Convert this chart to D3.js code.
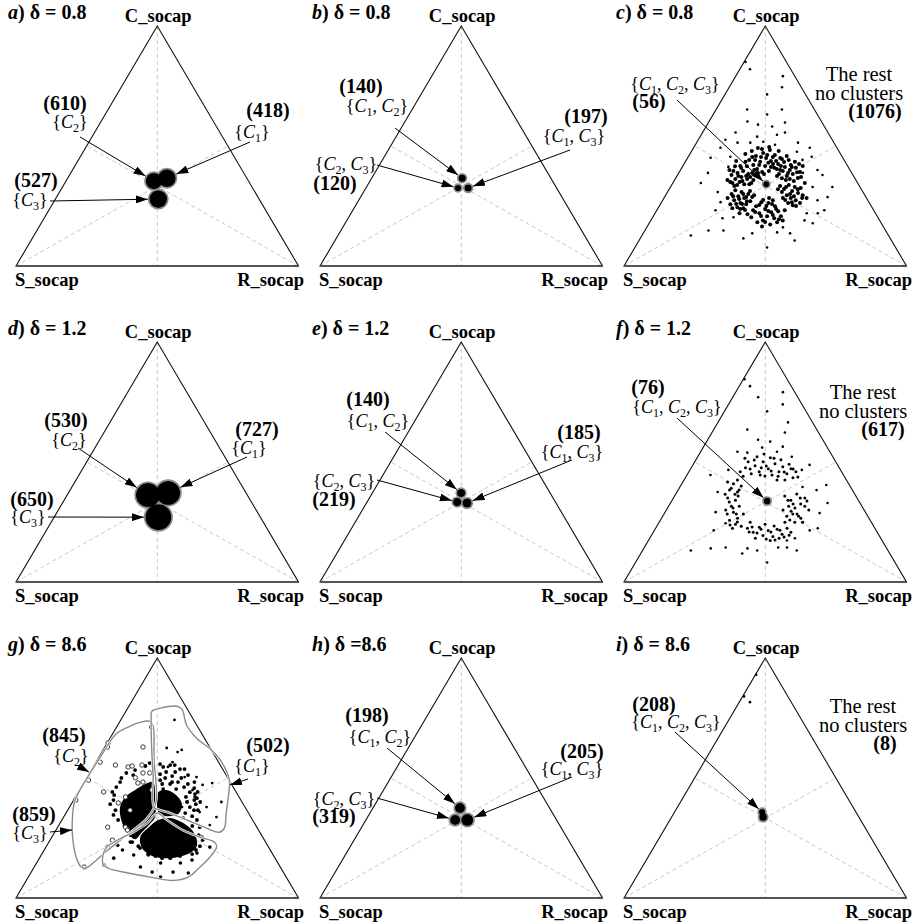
<!DOCTYPE html>
<html>
<head>
<meta charset="utf-8">
<script src="https://cdn.jsdelivr.net/npm/d3@7"></script>
<style>
body { margin: 0; background: #fff; }
</style>
</head>
<body>
<div id="chart"></div>
<script>
"use strict"

let width = 915;
let height = 924;
let colStep = 304;
let rowStep = 316;
let fontFamily = "Liberation Serif";

// ---- data ----
// every point is a composition [C %, R %]  (S % = 100 - C - R)

let panelIds = ["a", "b", "c", "d", "e", "f", "g", "h", "i"];
let deltaText = ["= 0.8", "= 0.8", "= 0.8", "= 1.2", "= 1.2", "= 1.2", "= 8.6", "=8.6", "= 8.6"];
let vertexNames = ["C_socap", "S_socap", "R_socap"];

// cluster sets; parts = [C, R, spread]
let clustersA = [
    {set: ["C2"], n: 610, parts: [[35.4, 31.1, 3.4]]},
    {set: ["C1"], n: 418, parts: [[36.6, 35.1, 3.7]]},
    {set: ["C3"], n: 527, parts: [[27.9, 36.4, 3.7]]}
];
let clustersB = [
    {set: ["C1", "C2"], n: 140, parts: [[36.6, 32.0, 1.5]]},
    {set: ["C2", "C3"], n: 120, parts: [[32.5, 32.6, 1.3]]},
    {set: ["C1", "C3"], n: 197, parts: [[32.5, 36.2, 1.5]]}
];
let clustersC = [
    {set: ["C1", "C2", "C3"], n: 56, parts: [[34.1, 33.3, 1.2]]}
];
let clustersD = [
    {set: ["C2"], n: 530, parts: [[36.2, 28.6, 5.0]]},
    {set: ["C1"], n: 727, parts: [[37.1, 35.3, 5.0]]},
    {set: ["C3"], n: 650, parts: [[27.0, 36.9, 5.4]]}
];
let clustersE = [
    {set: ["C1", "C2"], n: 140, parts: [[37.1, 31.4, 1.7]]},
    {set: ["C2", "C3"], n: 219, parts: [[33.3, 31.9, 1.7]]},
    {set: ["C1", "C3"], n: 185, parts: [[32.9, 35.6, 1.9]]}
];
let clustersF = [
    {set: ["C1", "C2", "C3"], n: 76, parts: [[33.7, 33.8, 1.4]]}
];
let clustersG = [
    {set: ["C2"], n: 845, parts: []},
    {set: ["C1"], n: 502, parts: []},
    {set: ["C3"], n: 859, parts: []}
];
let clustersH = [
    {set: ["C1", "C2"], n: 198, parts: [[37.5, 30.8, 2.1]]},
    {set: ["C2", "C3"], n: 319, parts: [[32.5, 31.6, 2.1]]},
    {set: ["C1", "C3"], n: 205, parts: [[32.5, 35.9, 2.5]]}
];
let clustersI = [
    {set: ["C1", "C2", "C3"], n: 208, parts: [[35.8, 31.0, 1.3], [33.7, 32.4, 1.6]]}
];

let restCountC = 1076;
let restCountF = 617;
let restCountI = 8;

// panel c: scattered outer points and the dense ring round the centre
let restCOuter = [
    [85.0,0.5],[82.0,3.6],[79.1,16.7],[74.5,18.7],[71.5,14.9],[65.2,11.0],[65.2,23.3],[63.1,19.1],[58.9,18.0],[60.2,13.6],
    [58.1,23.4],[59.8,27.1],[55.6,11.7],[53.9,20.2],[54.7,26.8],[55.6,29.2],[51.4,14.5],[51.4,19.0],[51.8,23.4],[50.5,28.2],
    [49.3,41.1],[47.6,37.4],[45.1,8.1],[49.3,9.5],[45.5,14.9],[44.2,41.1],[45.5,43.7],[40.0,48.5],[37.9,51.3],[38.8,10.3],
    [30.8,17.8],[32.9,57.3],[27.4,54.8],[23.2,59.3],[22.0,53.7],[26.6,20.9],[23.2,20.8],[19.9,24.9],[20.3,28.6],[12.7,17.3],
    [14.8,22.5],[14.8,27.8],[11.5,36.5],[13.6,38.6],[7.7,46.8],[14.0,47.2],[13.6,52.0],[10.6,55.1],[19.0,54.4],[17.8,57.9],
    [16.1,48.2],[22.0,57.6],[51.4,35.9],[52.6,9.6],[32.9,50.3],[28.7,57.7],[34.6,9.9],[41.3,16.3],[38.8,43.9]
];
let restCRing = [
    [39.2,29.3],[39.6,31.5],[40.4,26.9],[40.9,32.7],[41.7,29.1],[42.1,24.7],[42.5,33.3],[43.4,26.5],[43.8,30.1],[44.2,22.2],
    [44.6,33.6],[45.0,27.8],[45.8,23.8],[46.2,30.3],[47.1,25.7],[46.7,19.6],[45.8,34.7],[48.3,27.5],[49.2,22.8],[47.9,30.8],
    [47.9,21.3],[43.0,29.6],[45.4,25.8],[45.4,30.0],[44.2,24.3],[40.4,33.9],
    [38.3,35.7],[39.6,36.4],[37.5,38.9],[41.3,36.3],[40.0,38.7],[38.3,40.6],[42.1,38.0],[40.9,40.4],[44.2,36.2],[36.7,43.2],
    [43.4,38.8],[41.7,34.7],[39.2,42.7],[41.7,42.4],[35.4,42.4],[35.8,39.4],
    [33.3,38.6],[32.1,40.6],[33.7,41.5],[31.2,43.9],[32.9,44.0],[30.4,46.4],[29.5,42.9],[32.5,46.3],[28.3,44.9],[27.4,47.1],
    [28.3,42.1],[29.5,48.5],[26.2,49.2],[25.3,47.1],[26.2,45.0],[34.6,46.7],[28.3,50.5],
    [27.4,39.0],[26.2,38.0],[26.6,35.3],[24.9,41.0],[24.9,34.3],[23.7,38.1],[22.4,40.9],[22.0,36.9],[22.8,43.2],[23.2,34.1],
    [20.7,40.3],[19.0,39.7],[19.9,43.2],[20.7,45.2],[20.3,34.9],[23.2,45.3],[17.3,43.1],[18.2,38.1],[18.2,45.1],[21.6,32.9],
    [19.0,46.7],[16.5,40.6],
    [28.7,31.0],[30.0,29.0],[27.0,31.2],[28.3,28.4],[30.8,26.2],[25.7,30.4],[29.1,25.9],[26.2,28.1],[31.6,23.6],[24.1,30.2],
    [27.4,25.3],[24.5,27.9],[30.0,23.1],[25.7,24.8],[22.0,29.9],[28.3,22.5],
    [34.6,27.8],[36.2,25.5],[34.1,25.5],[38.3,24.8],[37.1,23.0],[35.0,23.4],[39.6,22.4],[38.8,20.8],[36.2,21.3],[33.3,22.4],
    [41.7,20.3],[37.9,19.1],[34.6,21.1],[40.0,17.3],[43.8,17.8],[35.8,18.7],[43.4,21.3],[37.1,26.1],
    [38.3,30.4],[41.2,31.4],[42.1,26.8],[43.7,32.0],[45.4,22.7],[46.2,27.6],[48.7,24.5],[42.5,31.5],[40.0,26.1],[45.0,32.8],
    [38.7,28.1],[49.6,26.6],
    [37.5,35.4],[36.6,37.6],[38.7,38.7],[41.2,38.8],[43.3,35.0],[39.1,41.7],[37.1,44.1],[36.2,40.6],[40.0,35.3],[42.5,40.7],
    [32.0,38.5],[30.8,40.5],[32.9,40.9],[30.0,43.8],[29.1,45.6],[32.0,45.5],[28.3,48.9],[27.5,43.3],[26.6,46.1],[25.0,48.4],
    [28.3,37.2],[27.5,35.5],[25.8,39.5],[25.4,35.2],[25.0,37.9],[23.7,42.0],[22.5,35.2],[22.9,39.6],[21.2,42.1],[20.8,38.1],
    [19.5,45.1],[18.3,40.8],
    [29.5,31.3],[31.2,29.0],[28.7,28.9],[30.0,27.2],[27.0,30.0],[25.8,28.9],[27.9,26.8],[25.8,26.8],[29.1,24.1],[23.3,31.2],
    [24.1,26.3],[23.7,29.3],
    [35.8,27.9],[34.1,27.3],[37.5,24.5],[35.4,24.2],[37.5,21.7],[33.7,23.2],[39.6,18.9],[35.0,20.1],[40.8,21.1],[41.6,18.5],
    [41.6,22.7],[38.7,26.0]
];

// panel f: scattered outer points and the ring
let restFOuter = [
    [84.5,0.4],[81.6,3.8],[79.1,16.7],[77.0,9.0],[74.0,19.2],[71.1,15.1],[66.5,24.8],[63.5,11.9],[62.3,25.8],[59.3,17.8],
    [58.5,22.5],[56.4,28.0],[54.3,13.0],[53.9,16.7],[56.0,20.9],[54.3,27.0],[52.2,33.3],[48.8,41.3],[46.7,39.6],[44.6,8.3],
    [46.7,13.6],[37.5,14.4],[40.4,51.4],[38.3,49.0],[39.6,43.4],[32.9,55.6],[28.7,54.9],[24.9,50.8],[21.5,55.0],[22.4,57.4],
    [29.1,17.9],[21.5,21.0],[24.5,23.7],[13.1,17.1],[14.0,23.7],[14.4,28.8],[11.9,35.9],[14.0,36.7],[13.1,40.6],[8.1,46.6],
    [14.4,47.4],[14.4,50.5],[13.1,54.6],[18.2,51.4],[17.3,49.0]
];
let restFRing = [
    [45.9,18.2],[47.6,19.2],[45.1,22.5],[48.4,22.2],[45.9,24.9],[50.1,24.2],[47.2,27.5],[44.6,30.1],[49.3,28.8],[45.9,31.9],
    [48.0,32.2],[45.1,35.1],[47.2,35.5],[50.1,18.9],[44.2,27.8],[51.8,25.9],[52.2,21.0],[42.5,32.9],[43.4,38.1],[42.5,18.9],
    [50.9,30.1],[47.6,24.8],[42.5,35.7],[45.9,37.9],
    [40.9,18.3],[38.3,18.2],[37.5,21.4],[35.0,19.2],[34.1,22.4],[31.6,22.2],[31.6,25.0],[30.0,21.0],[29.1,24.2],[26.6,26.9],
    [25.7,24.5],[24.1,27.4],[23.2,29.9],[41.7,15.8],[40.0,21.5],[22.4,27.2],[35.8,22.5],[28.3,28.1],
    [22.4,32.5],[20.7,35.4],[22.8,36.5],[19.4,39.5],[21.5,40.3],[19.0,43.2],[22.0,43.2],[19.9,46.0],[22.4,46.5],[20.7,48.7],
    [18.2,37.4],[17.3,43.1],[18.2,45.8],[24.9,32.2],[24.9,44.5],[24.1,37.9],
    [35.8,39.0],[34.1,42.0],[36.7,42.8],[31.6,42.5],[30.8,45.1],[32.5,46.3],[35.0,46.5],[28.3,45.6],[27.4,48.1],[27.4,43.9],
    [24.9,50.8],[24.9,48.0],[30.0,50.4],[30.0,41.3],
    [44.1,20.1],[47.1,21.1],[50.8,20.7],[44.6,25.9],[48.3,26.2],[46.2,29.0],[51.6,27.3],[44.1,32.5],[45.8,33.8],[49.1,33.9],
    [51.6,17.0],[47.1,36.3],[53.3,22.9],[43.7,39.7],
    [39.1,18.4],[36.6,21.0],[33.3,20.6],[30.8,23.2],[28.3,22.4],[25.0,27.6],[23.7,25.7],[38.3,21.6],[36.6,17.5],[28.3,25.6],
    [20.8,33.9],[20.4,36.9],[22.0,37.5],[17.9,41.4],[20.8,41.6],[17.5,44.7],[21.6,44.4],[18.7,47.3],[19.5,48.7],[22.9,33.9],
    [23.3,41.5],
    [34.1,41.0],[32.5,43.6],[35.0,44.9],[29.5,44.4],[28.3,47.1],[31.6,48.2],[26.6,49.3],[33.7,47.9],[25.8,45.8]
];

let restIOuter = [[84.0, 0.5], [81.6, 3.8], [93.0, 0.3]];

// panel g: cluster outlines, dense cores and the scattered members
let hullG2 = [
    [40.4,0.6],[50.5,0.2],[58.9,0.5],[68.2,1.2],[71.1,3.9],[73.2,7.3],[73.6,10.6],[71.5,12.8],[57.7,20.0],[39.6,29.7],
    [33.3,29.8],[28.3,27.4],[24.1,24.9],[19.9,22.5],[14.8,20.1],[12.5,18.6],[12.9,16.6],[17.0,12.8],[24.1,8.1],[31.2,4.3]
];
let hullG1 = [
    [37.9,29.9],[50.5,23.3],[61.7,17.2],[74.5,10.6],[77.8,9.2],[79.1,11.5],[79.9,17.0],[78.7,19.4],[72.1,24.3],[66.7,30.5],
    [61.7,38.3],[56.8,44.3],[49.2,50.9],[42.1,54.1],[35.4,56.7],[29.1,59.2],[27.4,58.3],[29.1,52.9],[32.5,44.2],[35.4,36.8],
    [36.6,32.7]
];
let hullG3 = [
    [35.4,32.2],[31.2,30.9],[27.5,27.8],[24.1,23.9],[20.8,21.4],[14.4,23.5],[12.5,26.3],[10.4,34.4],[8.7,43.2],[7.3,51.9],
    [8.7,56.6],[12.9,58.7],[17.0,60.1],[21.2,60.4],[23.3,58.6],[25.4,52.4],[28.3,44.9],[32.5,37.2]
];
let coreG2 = [[48.3,24.4],[47.5,22.0],[45.0,19.7],[42.1,17.6],[37.9,17.9],[32.5,21.0],[27.5,25.6],[24.5,29.9],[27.5,30.9],[30.8,32.0],[33.7,32.4],[40.0,29.3]];
let coreG1 = [[44.1,28.3],[45.0,30.7],[42.9,35.2],[39.1,39.2],[35.0,39.9],[34.1,36.1],[35.0,33.2]];
let coreG3 = [[32.5,34.1],[33.3,37.9],[30.8,44.4],[26.6,50.0],[21.6,53.2],[18.3,51.7],[16.6,46.2],[17.5,39.4],[20.8,34.2],[25.4,31.3],[30.0,32.5]];
let pointsG2 = [
    [71.2,12.4],[62.9,0.9],[64.6,0.3],[62.9,13.5],[55.4,7.5],[54.6,12.4],[55.0,13.6],[55.4,16.9],[52.1,18.9],[50.1,17.2],
    [52.1,21.3],[47.9,19.2],[48.3,20.8],[45.0,25.6],[44.2,8.9],[42.1,17.7],[39.6,16.4],[36.6,22.1],[29.5,17.7],[29.5,24.0],
    [28.3,25.3],[24.1,22.1],[21.2,21.9],[12.9,17.7],[40.8,0.8],[49.1,1.1],[56.6,1.5]
];
let pointsG1 = [
    [74.2,19.0],[61.7,27.8],[62.5,22.1],[60.8,26.8],[56.6,27.1],[54.6,26.5],[47.1,42.5],[40.0,52.7],[42.1,42.2],[37.9,48.5],
    [40.0,40.4],[35.8,47.1],[33.7,54.1],[30.4,53.4],[37.9,39.8],[45.0,40.0],[50.4,34.5],[47.9,45.5],[50.4,38.7]
];
let pointsG3 = [
    [13.7,24.3],[16.6,26.3],[20.0,27.7],[17.9,32.7],[12.9,37.6],[10.8,42.8],[14.6,43.9],[17.0,46.1],[14.6,50.9],[10.4,55.8],
    [18.7,54.7],[21.2,58.0],[24.1,54.0],[22.9,48.4],[22.0,25.0],[23.3,28.8],[17.9,37.9],[10.8,50.2],[8.7,46.8],[15.8,54.4]
];
let pointsGcore = [
    [40.8,14.1],[36.6,16.9],[48.3,12.7],[51.2,15.9],[56.2,19.2],[55.8,23.1],[55.4,28.5],[48.3,39.0],[44.2,42.2],[39.1,44.1],
    [29.5,50.3],[25.4,53.1],[20.0,53.7],[16.6,46.3],[17.5,40.6],[21.6,32.5],[26.2,27.4],[31.6,23.2],[44.2,12.0],[53.7,32.8],
    [42.9,13.3],[46.2,12.4],[50.0,12.3],[52.1,13.0],[53.3,15.5],[55.0,18.3],[55.0,21.1],[39.1,13.8],[34.6,17.2],[32.5,19.9],
    [30.0,23.4],[54.6,24.8],[55.4,26.9],[53.7,31.2],[51.2,35.3],[45.8,40.2],[41.6,43.2],[36.6,44.7],[35.4,42.2],[30.0,47.4],
    [26.2,51.6],[21.6,54.3],[18.3,53.2],[17.5,49.3],[16.6,43.4],[18.3,37.6],[20.8,33.5],[23.3,29.5],[27.5,28.8],
    [51.6,25.2],[50.0,27.8],[50.8,29.9],[48.3,33.2],[47.5,28.0],[47.5,30.8],[46.2,36.4],[45.4,34.0],[44.1,39.5],[42.1,39.1],
    [40.8,42.7],[37.9,42.6],[36.6,46.1],[49.1,26.5],[52.5,30.1],[50.0,33.5],[47.5,37.1],[43.3,41.7],[40.0,45.2],[33.3,42.5],
    [34.1,45.3],[48.3,31.1],[52.5,26.9],[45.4,29.4],[40.0,40.6],[32.5,47.8]
];

let panelClusters = [clustersA, clustersB, clustersC, clustersD, clustersE, clustersF, clustersG, clustersH, clustersI];

// ---- layout of the annotations (pixels inside a panel) ----
let notes = {
    a: [{k: 0, n: [65, 110], s: [70, 128], from: [80, 137]},
        {k: 1, n: [268, 117], s: [252, 138], from: [250, 142]},
        {k: 2, n: [36, 187], s: [30, 206], from: [50, 201]}],
    b: [{k: 0, n: [57, 93], s: [73, 112], from: [91, 128]},
        {k: 1, n: [31, 190], s: [42, 170], from: [73, 165]},
        {k: 2, n: [282, 123], s: [270, 142], from: [266, 150]}],
    c: [{k: 0, n: [41, 108], s: [67, 90], from: [69, 100]}],
    d: [{k: 0, n: [66, 111], s: [69, 130], from: [78, 132]},
        {k: 1, n: [257, 120], s: [249, 138], from: [247, 141]},
        {k: 2, n: [32, 190], s: [28, 207], from: [48, 201]}],
    e: [{k: 0, n: [64, 90], s: [74, 111], from: [81, 116]},
        {k: 1, n: [30, 190], s: [40, 171], from: [73, 164]},
        {k: 2, n: [275, 123], s: [268, 142], from: [268, 144]}],
    f: [{k: 0, n: [40, 78], s: [69, 97], from: [69, 102]}],
    g: [{k: 0, n: [64, 110], s: [71, 130], from: [80, 135], tip: [89, 140]},
        {k: 1, n: [268, 120], s: [252, 140], from: [248, 147], tip: [230, 153]},
        {k: 2, n: [34, 189], s: [30, 207], from: [50, 200], tip: [72, 198]}],
    h: [{k: 0, n: [63, 90], s: [76, 111], from: [83, 116]},
        {k: 1, n: [30, 191], s: [40, 173], from: [73, 166]},
        {k: 2, n: [278, 126], s: [268, 143], from: [268, 145]}],
    i: [{k: 0, n: [46, 79], s: [68, 96], from: [67, 100]}]
};
let restNotes = {
    c: {n: restCountC, x: 251, y: 81, nx: 267, outer: restCOuter, ring: restCRing, r: 1.3, ringR: 2.0},
    f: {n: restCountF, x: 255, y: 83, nx: 275, outer: restFOuter, ring: restFRing, r: 1.3, ringR: 1.5},
    i: {n: restCountI, x: 255, y: 81, nx: 277, outer: restIOuter, ring: [], r: 1.3, ringR: 1.3}
};

// ---- scales: across = R + C/2, up = C ----
let xScale = d3.scaleLinear().domain([0, 100]).range([16, 298.5]);
let yScale = d3.scaleLinear().domain([0, 100]).range([266, 26]);
function tx(d) { return xScale(d[1] + d[0] / 2); }
function ty(d) { return yScale(d[0]); }
function spreadPx(s) { return yScale(0) - yScale(s); }

let vertC = [100, 0], vertS = [0, 0], vertR = [0, 100];

let svg = d3.select("#chart")
    .append("svg")
    .attr("width", width)
    .attr("height", height);

svg.append("rect").attr("width", width).attr("height", height).attr("fill", "white");

svg.append("defs").append("marker")
    .attr("id", "tip")
    .attr("viewBox", "0 0 12 8")
    .attr("refX", 12)
    .attr("refY", 4)
    .attr("markerUnits", "userSpaceOnUse")
    .attr("markerWidth", 12)
    .attr("markerHeight", 8)
    .attr("orient", "auto")
    .append("path")
    .attr("d", "M0,0L12,4L0,8Z")
    .attr("fill", "black");

let hullLine = d3.line().x(tx).y(ty).curve(d3.curveCatmullRomClosed.alpha(0.5));

function addText(g, x, y, size) {
    return g.append("text")
        .attr("x", x).attr("y", y)
        .attr("font-family", fontFamily)
        .attr("font-size", size)
        .attr("fill", "black");
}

function writeSet(g, set, pos) {
    let t = addText(g, pos[0], pos[1], 18).attr("text-anchor", "middle");
    t.append("tspan").text("{");
    set.forEach(function(s, j) {
        t.append("tspan").attr("font-style", "italic").text("C");
        t.append("tspan").attr("font-size", 12).attr("dy", 4).text(s.slice(1));
        t.append("tspan").attr("dy", -4).text(j < set.length - 1 ? ", " : "}");
    });
}

function writeCount(g, n, pos) {
    addText(g, pos[0], pos[1], 20)
        .attr("text-anchor", "middle")
        .attr("font-weight", "bold")
        .text("(" + n + ")");
}

panelIds.forEach(function(id, i) {
    let g = svg.append("g")
        .attr("transform", "translate(" + (i % 3) * colStep + "," + Math.floor(i / 3) * rowStep + ")");
    let clusters = panelClusters[i];

    // medians
    [[vertC, [0, 50]], [vertS, [50, 50]], [vertR, [50, 0]]].forEach(function(m) {
        g.append("line")
            .attr("x1", tx(m[0])).attr("y1", ty(m[0]))
            .attr("x2", tx(m[1])).attr("y2", ty(m[1]))
            .attr("stroke", "#c8c8c8")
            .attr("stroke-width", 1)
            .attr("stroke-dasharray", "4,3");
    });

    // frame
    g.append("path")
        .attr("d", "M" + [vertC, vertS, vertR].map(function(v) { return tx(v) + "," + ty(v); }).join("L") + "Z")
        .attr("fill", "none")
        .attr("stroke", "#111")
        .attr("stroke-width", 1.1);
    g.append("line")
        .attr("x1", tx(vertS)).attr("y1", ty(vertS))
        .attr("x2", tx(vertR)).attr("y2", ty(vertR))
        .attr("stroke", "#555")
        .attr("stroke-width", 1.8);

    addText(g, tx(vertC) + 1, 22, 18.5).attr("text-anchor", "middle")
        .attr("font-weight", "bold").text(vertexNames[0]);
    addText(g, 15, 286, 18.5).attr("text-anchor", "start")
        .attr("font-weight", "bold").text(vertexNames[1]);
    addText(g, 304, 286, 18.5).attr("text-anchor", "end")
        .attr("font-weight", "bold").text(vertexNames[2]);

    let title = addText(g, 8, 19, 20).attr("font-weight", "bold");
    title.append("tspan").attr("font-style", "italic").text(id);
    title.append("tspan").text(") \u03b4 " + deltaText[i]);

    // points outside every cluster
    let rest = restNotes[id];
    if (rest) {
        g.selectAll(".rest")
            .data(rest.outer)
            .join("circle")
            .attr("class", "rest")
            .attr("cx", tx).attr("cy", ty)
            .attr("r", rest.r)
            .attr("fill", "black");
        g.selectAll(".ring")
            .data(rest.ring)
            .join("circle")
            .attr("class", "ring")
            .attr("cx", tx).attr("cy", ty)
            .attr("r", rest.ringR)
            .attr("fill", "black");
        addText(g, rest.x, rest.y, 20.5).attr("text-anchor", "middle").text("The rest");
        addText(g, rest.x, rest.y + 19, 20.5).attr("text-anchor", "middle").text("no clusters");
        writeCount(g, rest.n, [rest.nx, rest.y + 37]);
    }

    if (id === "g") {
        [coreG2, coreG1, coreG3].forEach(function(c) {
            g.append("path").attr("d", hullLine(c)).attr("fill", "black");
        });
        g.selectAll(".gcore").data(pointsGcore).join("circle").attr("class", "gcore")
            .attr("cx", tx).attr("cy", ty).attr("r", 1.9).attr("fill", "black");
        g.selectAll(".g1").data(pointsG1).join("circle").attr("class", "g1")
            .attr("cx", tx).attr("cy", ty).attr("r", 1.4).attr("fill", "black");
        g.selectAll(".g3").data(pointsG3).join("circle").attr("class", "g3")
            .attr("cx", tx).attr("cy", ty).attr("r", 1.8).attr("fill", "black");
        g.selectAll(".g2").data(pointsG2).join("circle").attr("class", "g2")
            .attr("cx", tx).attr("cy", ty).attr("r", 2.2)
            .attr("fill", "white").attr("stroke", "#222").attr("stroke-width", 0.9);
        [hullG2, hullG1, hullG3].forEach(function(h) {
            g.append("path").attr("d", hullLine(h)).attr("fill", "none")
                .attr("stroke", "white").attr("stroke-width", 2.6);
            g.append("path").attr("d", hullLine(h)).attr("fill", "none")
                .attr("stroke", "#8a8a8a").attr("stroke-width", 1.4);
        });
    }

    // cluster blobs
    let parts = [];
    clusters.forEach(function(cl) { cl.parts.forEach(function(q) { parts.push(q); }); });
    g.selectAll(".halo")
        .data(parts)
        .join("circle")
        .attr("class", "halo")
        .attr("cx", tx).attr("cy", ty)
        .attr("r", function(d) { return spreadPx(d[2]) + 0.8; })
        .attr("fill", "none")
        .attr("stroke", "#8c8c8c")
        .attr("stroke-width", 1.6);
    g.selectAll(".blob")
        .data(parts)
        .join("circle")
        .attr("class", "blob")
        .attr("cx", tx).attr("cy", ty)
        .attr("r", function(d) { return spreadPx(d[2]); })
        .attr("fill", "black");

    // annotations
    notes[id].forEach(function(nt) {
        let cl = clusters[nt.k];
        writeCount(g, cl.n, nt.n);
        writeSet(g, cl.set, nt.s);
        let end = nt.tip;
        if (!end) {
            let q = cl.parts[0];
            let cx = tx(q), cy = ty(q);
            let dx = cx - nt.from[0], dy = cy - nt.from[1];
            let len = Math.hypot(dx, dy);
            let rr = spreadPx(q[2]) + 1.5;
            end = [cx - dx / len * rr, cy - dy / len * rr];
        }
        g.append("line")
            .attr("x1", nt.from[0]).attr("y1", nt.from[1])
            .attr("x2", end[0]).attr("y2", end[1])
            .attr("stroke", "black")
            .attr("stroke-width", 1)
            .attr("marker-end", "url(#tip)");
    });
});
</script>
</body>
</html>
